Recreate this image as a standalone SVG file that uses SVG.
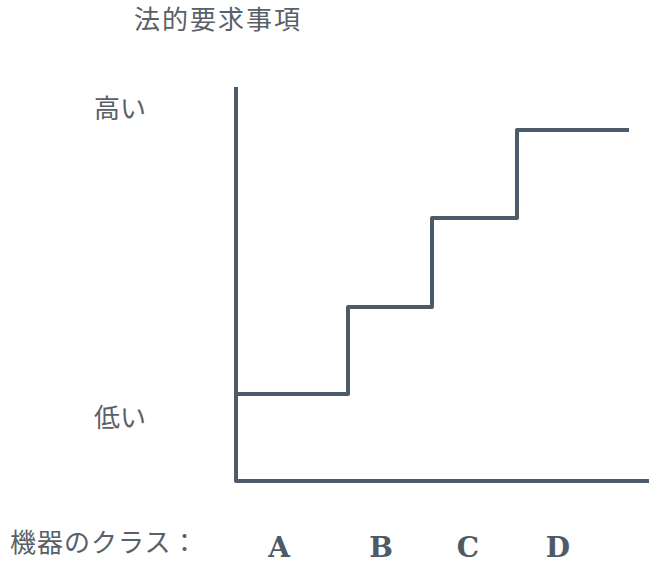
<svg xmlns="http://www.w3.org/2000/svg" width="649" height="563" viewBox="0 0 649 563">
<style>
.jp{font-family:"Noto Sans CJK JP","Noto Sans",sans-serif;fill:#5a6068;font-size:26px}
.lt{font-family:"DejaVu Serif","Liberation Serif",serif;fill:#4f5a66;font-size:28px;font-weight:bold;text-anchor:middle}
.ln{fill:none;stroke:#4d5a68;stroke-width:4;stroke-linejoin:round;stroke-linecap:butt}
</style>
<rect width="649" height="563" fill="#ffffff"/>
<g id="title"><text class="jp" x="134" y="29" letter-spacing="2">法的要求事項</text></g>
<g id="high"><text class="jp" x="94" y="118">高い</text></g>
<g id="low"><text class="jp" x="94" y="427">低い</text></g>
<g id="classlabel"><text class="jp" x="10" y="552" font-size="25" letter-spacing="1">機器のクラス：</text></g>
<g id="classA"><text class="lt" x="279" y="557">A</text></g>
<g id="classB"><text class="lt" x="381" y="557">B</text></g>
<g id="classC"><text class="lt" x="468" y="557">C</text></g>
<g id="classD"><text class="lt" x="558" y="557">D</text></g>
<g id="connectors">
<path id="axes" class="ln" d="M236,87 L236,481 L649,481"/>
<path id="steps" class="ln" d="M236,394 L348,394 L348,307 L432,307 L432,218 L517,218 L517,130 L629,130"/>
</g>
</svg>
